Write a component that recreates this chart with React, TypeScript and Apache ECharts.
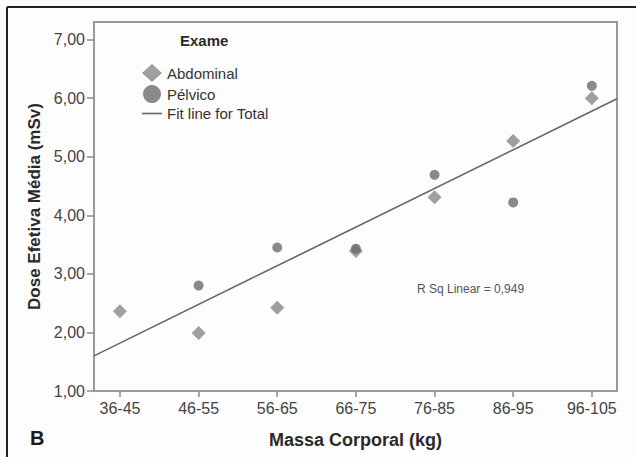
import React, { useEffect, useRef } from "react";
import * as echarts from "echarts";

const categories = ["36-45", "46-55", "56-65", "66-75", "76-85", "86-95", "96-105"];
const abdominalX = [1, 2, 3, 4, 5, 6, 7];
const abdominalY = [2.36, 1.99, 2.42, 3.39, 4.31, 5.27, 6.0];
const pelvicoX = [2, 3, 4, 5, 6, 7];
const pelvicoY = [2.8, 3.45, 3.43, 4.69, 4.22, 6.21];
const fitX = [0.67, 7.32];
const fitY = [1.6, 5.99];
const yTicks = [1, 2, 3, 4, 5, 6, 7];
const xTicks = [1, 2, 3, 4, 5, 6, 7];

const FONT = "'Liberation Sans', Arial, sans-serif";

export default function App() {
  const ref = useRef<HTMLDivElement>(null);
  useEffect(() => {
    document.body.style.margin = "0";
    const chart = echarts.init(ref.current!, undefined, { renderer: "svg" });
    chart.setOption({
      animation: false,
      backgroundColor: "#fdfdfd",
      textStyle: { fontFamily: FONT },
      grid: {
        left: 94,
        right: 19,
        top: 22,
        bottom: 66,
        show: true,
        borderColor: "#9a9a9a",
        borderWidth: 2,
        backgroundColor: "transparent",
      },
      legend: {
        orient: "vertical",
        left: 137,
        top: 59,
        itemWidth: 20,
        itemHeight: 18,
        itemGap: 3,
        symbolKeepAspect: true,
        textStyle: { fontSize: 15, color: "#333", fontFamily: FONT },
        data: [
          { name: "Abdominal", icon: "diamond" },
          { name: "Pélvico", icon: "circle" },
          { name: "Fit line for Total", icon: "path://M0,0L20,0L20,1.6L0,1.6Z" },
        ],
      },
      xAxis: {
        type: "value",
        min: 0.67,
        max: 7.32,
        splitLine: { show: false },
        axisLine: { show: true, lineStyle: { color: "#9a9a9a", width: 2 } },
        axisTick: { show: true, customValues: xTicks, length: 6, lineStyle: { color: "#8a8a8a", width: 1.5 } },
        axisLabel: {
          customValues: xTicks,
          formatter: (v: number) => categories[Math.round(v) - 1] ?? "",
          fontSize: 16,
          color: "#444",
          margin: 9,
          fontFamily: FONT,
        },
        name: "Massa Corporal (kg)",
        nameLocation: "middle",
        nameGap: 40,
        nameTextStyle: { fontSize: 18, fontWeight: "bold", color: "#2a2a2a", fontFamily: FONT },
      },
      yAxis: {
        type: "value",
        min: 1,
        max: 7.3,
        splitLine: { show: false },
        axisLine: { show: true, lineStyle: { color: "#9a9a9a", width: 2 } },
        axisTick: { show: true, customValues: yTicks, length: 7, lineStyle: { color: "#8a8a8a", width: 1.5 } },
        axisLabel: {
          customValues: yTicks,
          formatter: (v: number) => v.toFixed(2).replace(".", ","),
          fontSize: 16,
          color: "#444",
          margin: 9,
          fontFamily: FONT,
        },
        name: "Dose Efetiva Média (mSv)",
        nameLocation: "middle",
        nameGap: 50,
        nameTextStyle: { fontSize: 17, fontWeight: "bold", color: "#2a2a2a", fontFamily: FONT },
      },
      series: [
        {
          name: "Fit line for Total",
          type: "line",
          symbol: "none",
          data: fitX.map((x, i) => [x, fitY[i]]),
          lineStyle: { color: "#666", width: 1.6 },
          itemStyle: { color: "#666" },
          z: 1,
        },
        {
          name: "Abdominal",
          type: "scatter",
          symbol: "diamond",
          symbolSize: 14,
          data: abdominalX.map((x, i) => [x, abdominalY[i]]),
          itemStyle: { color: "#878787" },
          z: 3,
        },
        {
          name: "Pélvico",
          type: "scatter",
          symbol: "circle",
          symbolSize: 10,
          data: pelvicoX.map((x, i) => [x, pelvicoY[i]]),
          itemStyle: { color: "#6c6c6c" },
          z: 4,
        },
      ],
      graphic: [
        { type: "line", shape: { x1: 7, y1: 7, x2: 636, y2: 7 }, style: { stroke: "#222", lineWidth: 2 } },
        { type: "line", shape: { x1: 7, y1: 7, x2: 7, y2: 457 }, style: { stroke: "#222", lineWidth: 2 } },
        {
          type: "text",
          left: 180,
          top: 33,
          style: { text: "Exame", fontSize: 15, fontWeight: "bold", fill: "#2a2a2a", fontFamily: FONT },
        },
        {
          type: "text",
          left: 417,
          top: 283,
          style: { text: "R Sq Linear = 0,949", fontSize: 12, fill: "#555", fontFamily: FONT },
        },
        {
          type: "text",
          left: 30,
          top: 428,
          style: { text: "B", fontSize: 20, fontWeight: "bold", fill: "#1a1a1a", fontFamily: FONT },
        },
      ],
    });
    return () => chart.dispose();
  }, []);
  return <div ref={ref} style={{ width: 636, height: 457 }} />;
}
